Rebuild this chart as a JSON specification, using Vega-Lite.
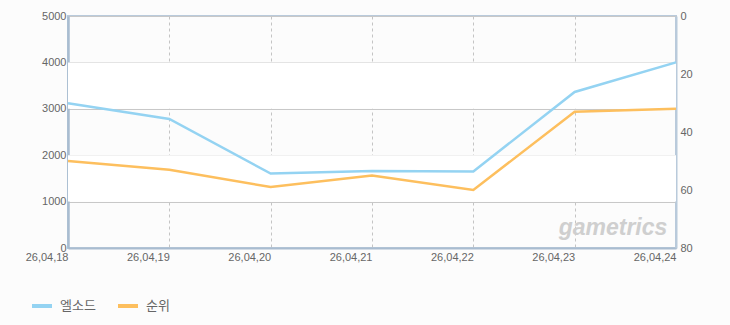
{
  "$schema": "https://vega.github.io/schema/vega-lite/v6.json",
  "width": 608,
  "height": 232,
  "autosize": "none",
  "padding": {"left": 68, "top": 16, "right": 54, "bottom": 77},
  "background": "#fcfcfc",
  "config": {
    "view": {"stroke": "#b9cadb", "strokeWidth": 2, "fill": "#fcfcfc"},
    "font": "Liberation Sans",
    "axis": {"labelColor": "#666666", "labelFontSize": 11, "labelFont": "Liberation Sans", "ticks": false, "title": null, "zindex": 1},
    "legend": {"labelFont": "Noto Sans CJK KR", "labelFontSize": 13, "labelColor": "#666666"}
  },
  "datasets": {
    "series": [
      {"date": "26,04,18", "elsword": 3121, "rank": 50},
      {"date": "26,04,19", "elsword": 2780, "rank": 53},
      {"date": "26,04,20", "elsword": 1605, "rank": 59},
      {"date": "26,04,21", "elsword": 1657, "rank": 55},
      {"date": "26,04,22", "elsword": 1650, "rank": 60},
      {"date": "26,04,23", "elsword": 3363, "rank": 33},
      {"date": "26,04,24", "elsword": 4000, "rank": 32}
    ],
    "bands": [
      {"lo": 1000, "hi": 2000},
      {"lo": 3000, "hi": 4000}
    ],
    "mark": [
      {"label": "gametrics", "date": "26,04,23", "v": 430}
    ]
  },
  "layer": [
    {
      "data": {"name": "bands"},
      "mark": {"type": "rect", "color": "#ffffff"},
      "encoding": {
        "y": {"field": "lo", "type": "quantitative", "scale": {"domain": [0, 5000]}, "axis": null},
        "y2": {"field": "hi"}
      }
    },
    {
      "data": {"name": "mark"},
      "mark": {"type": "text", "font": "Liberation Sans", "fontSize": 23, "fontStyle": "italic", "fontWeight": "bold", "color": "#cfcfcf", "align": "left", "baseline": "middle", "dx": -16},
      "encoding": {
        "x": {"field": "date", "type": "ordinal", "scale": {"type": "point", "padding": 0, "domain": ["26,04,18","26,04,19","26,04,20","26,04,21","26,04,22","26,04,23","26,04,24"]}},
        "y": {"field": "v", "type": "quantitative", "scale": {"domain": [0, 5000]}, "axis": null},
        "text": {"field": "label"}
      }
    },
    {
      "data": {"name": "series"},
      "mark": {"type": "line", "strokeWidth": 2.5},
      "encoding": {
        "x": {
          "field": "date", "type": "ordinal",
          "scale": {"type": "point", "padding": 0, "domain": ["26,04,18","26,04,19","26,04,20","26,04,21","26,04,22","26,04,23","26,04,24"]},
          "axis": {"labelAngle": 0, "labelPadding": 9, "grid": true, "gridColor": "#c4c4c4", "gridDash": [3, 3], "gridWidth": 1, "domainColor": "#a9bcd0", "domainWidth": 2}
        },
        "y": {
          "field": "elsword", "type": "quantitative",
          "scale": {"domain": [0, 5000]},
          "axis": {"orient": "left", "values": [0, 1000, 2000, 3000, 4000, 5000], "format": "d", "grid": true, "gridColor": "#c8c8c8", "gridWidth": 1, "labelPadding": 2, "domainColor": "#a9bcd0", "domainWidth": 2.5}
        },
        "color": {
          "datum": "엘소드",
          "scale": {"domain": ["엘소드", "순위"], "range": ["#94d3f2", "#fdbf5e"]},
          "legend": {"orient": "none", "legendX": -38, "legendY": 278, "direction": "horizontal", "title": null, "symbolType": "stroke", "symbolSize": 400, "symbolStrokeWidth": 4, "labelOffset": 6, "columnPadding": 14}
        }
      }
    },
    {
      "data": {"name": "series"},
      "mark": {"type": "line", "strokeWidth": 2.5},
      "encoding": {
        "x": {"field": "date", "type": "ordinal", "scale": {"type": "point", "padding": 0, "domain": ["26,04,18","26,04,19","26,04,20","26,04,21","26,04,22","26,04,23","26,04,24"]}},
        "y": {
          "field": "rank", "type": "quantitative",
          "scale": {"domain": [0, 80], "reverse": true},
          "axis": {"orient": "right", "values": [0, 20, 40, 60, 80], "grid": false, "labelPadding": 4, "domainColor": "#b9cadb", "domainWidth": 2}
        },
        "color": {"datum": "순위"}
      }
    }
  ],
  "resolve": {"scale": {"y": "independent"}}
}
